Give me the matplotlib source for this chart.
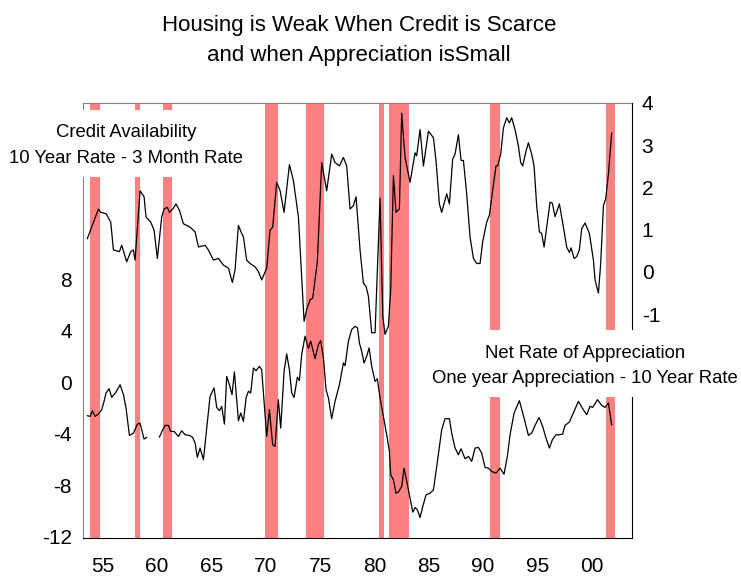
import numpy as np
import matplotlib
matplotlib.use("Agg")
import matplotlib.pyplot as plt
from matplotlib.patches import Rectangle

plt.rcParams['font.family'] = ['Liberation Sans', 'DejaVu Sans']
plt.rcParams['axes.unicode_minus'] = False

# Credit availability: 10 year rate - 3 month rate (right axis)
credit_year = [1953.59, 1954.61, 1954.82, 1955.31, 1955.74, 1955.99, 1956.54, 1956.75,
               1957.21, 1957.58, 1957.83, 1957.98, 1958.44, 1958.81, 1958.99, 1959.42,
               1959.73, 1960.03, 1960.43, 1960.65, 1960.95, 1961.14, 1961.45, 1961.75,
               1962.06, 1962.43, 1963.04, 1963.50, 1963.81, 1964.42, 1964.73, 1965.19,
               1965.65, 1966.11, 1966.57, 1966.93, 1967.18, 1967.49, 1967.79, 1967.95,
               1968.25, 1968.56, 1969.02, 1969.33, 1969.63, 1970.09, 1970.40, 1970.64,
               1971.01, 1971.32, 1971.69, 1972.18, 1972.55, 1973.01, 1973.53, 1973.77,
               1974.08, 1974.32, 1974.75, 1975.15, 1975.61, 1976.07, 1976.38, 1976.78,
               1977.15, 1977.45, 1977.76, 1978.07, 1978.31, 1978.68, 1978.99, 1979.23,
               1979.45, 1979.75, 1980.06, 1980.52, 1980.77, 1980.98, 1981.29, 1981.50,
               1981.75, 1981.99, 1982.30, 1982.51, 1982.82, 1983.28, 1983.74, 1983.89,
               1984.20, 1984.51, 1984.97, 1985.43, 1985.67, 1985.98, 1986.19, 1986.65,
               1986.90, 1987.20, 1987.42, 1987.73, 1987.97, 1988.19, 1988.49, 1988.80,
               1989.11, 1989.41, 1989.72, 1989.96, 1990.33, 1990.58, 1990.88, 1991.19,
               1991.34, 1991.62, 1991.87, 1992.17, 1992.42, 1992.63, 1992.94, 1993.25,
               1993.46, 1993.64, 1993.95, 1994.17, 1994.47, 1994.69, 1994.93, 1995.18,
               1995.39, 1995.61, 1995.85, 1996.16, 1996.37, 1996.62, 1997.02, 1997.39,
               1997.69, 1997.94, 1998.09, 1998.37, 1998.61, 1998.86, 1999.07, 1999.38,
               1999.78, 2000.15, 2000.30, 2000.61, 2000.82, 2001.07, 2001.28, 2001.53,
               2001.83]
credit_val = [0.79, 1.49, 1.41, 1.38, 1.18, 0.52, 0.48, 0.63,
              0.24, 0.48, 0.52, 0.28, 1.92, 1.78, 1.30, 1.18,
              0.99, 0.32, 1.30, 1.49, 1.53, 1.41, 1.49, 1.61,
              1.46, 1.14, 1.06, 0.95, 0.59, 0.63, 0.52, 0.28,
              0.32, 0.16, 0.09, -0.25, 0.05, 1.10, 0.91, 0.83,
              0.28, 0.20, 0.12, 0.01, -0.19, 0.09, 0.99, 1.06,
              2.12, 1.93, 1.41, 2.54, 2.16, 1.30, -1.17, -0.89,
              -0.66, -0.62, 0.24, 2.59, 1.92, 2.79, 2.59, 2.51,
              2.71, 2.51, 1.49, 1.57, 1.78, 0.52, -0.27, -0.34,
              -0.58, -1.44, -1.44, 1.75, -1.05, -1.48, -1.28, -0.42,
              2.28, 1.41, 1.49, 3.76, 2.71, 2.12, 2.82, 2.75,
              3.37, 2.51, 3.33, 3.18, 2.63, 1.61, 1.41, 1.85,
              1.61, 2.67, 2.79, 3.25, 2.64, 2.64, 1.85, 0.83,
              0.32, 0.20, 0.20, 0.71, 1.18, 1.34, 1.93, 2.51,
              2.51, 2.79, 3.41, 3.65, 3.53, 3.65, 3.37, 2.98,
              2.59, 2.51, 2.86, 3.06, 2.79, 2.51, 1.57, 0.95,
              0.91, 0.59, 1.06, 1.65, 1.63, 1.31, 1.61, 1.06,
              0.59, 0.46, 0.57, 0.32, 0.36, 0.52, 1.02, 1.16,
              0.91, 0.28, -0.19, -0.50, 0.20, 1.57, 1.73, 2.32,
              3.29]

# Net rate of appreciation: one year appreciation - 10 year rate (left axis)
apprec_year = [1953.59, 1953.84, 1954.05, 1954.30, 1954.61, 1954.91, 1955.13, 1955.31,
               1955.59, 1955.83, 1956.23, 1956.60, 1956.91, 1957.15, 1957.46, 1957.83,
               1958.20, 1958.44, 1958.59, 1958.81, 1959.05, 1959.60, 1960.22, 1960.53,
               1960.74, 1961.05, 1961.26, 1961.57, 1961.97, 1962.27, 1962.58, 1962.98,
               1963.28, 1963.50, 1963.71, 1963.96, 1964.27, 1964.51, 1964.88, 1965.25,
               1965.49, 1965.74, 1965.95, 1966.20, 1966.41, 1966.66, 1966.90, 1967.12,
               1967.49, 1967.70, 1967.95, 1968.19, 1968.41, 1968.62, 1968.87, 1969.11,
               1969.42, 1969.63, 1969.85, 1970.09, 1970.34, 1970.64, 1970.86, 1971.16,
               1971.38, 1971.69, 1971.93, 1972.18, 1972.39, 1972.61, 1972.91, 1973.10,
               1973.31, 1973.62, 1973.93, 1974.14, 1974.54, 1974.85, 1975.06, 1975.31,
               1975.55, 1975.77, 1976.07, 1976.38, 1976.78, 1977.15, 1977.30, 1977.61,
               1977.91, 1978.22, 1978.45, 1978.62, 1978.83, 1979.05, 1979.29, 1979.51,
               1979.75, 1980.06, 1980.27, 1980.52, 1980.83, 1981.13, 1981.38, 1981.50,
               1981.75, 1981.99, 1982.20, 1982.51, 1982.73, 1982.97, 1983.22, 1983.53,
               1983.74, 1983.95, 1984.20, 1984.45, 1984.75, 1985.12, 1985.43, 1985.80,
               1986.19, 1986.50, 1986.90, 1987.11, 1987.42, 1987.73, 1987.97, 1988.34,
               1988.65, 1988.95, 1989.26, 1989.57, 1989.87, 1990.18, 1990.49, 1990.79,
               1991.19, 1991.56, 1991.93, 1992.23, 1992.48, 1992.85, 1993.34, 1993.77,
               1994.17, 1994.47, 1994.78, 1995.15, 1995.48, 1995.79, 1996.10, 1996.37,
               1996.71, 1997.02, 1997.32, 1997.54, 1997.94, 1998.37, 1998.77, 1999.16,
               1999.53, 1999.84, 2000.09, 2000.52, 2000.91, 2001.22, 2001.53, 2001.83]
apprec_val = [-2.60, -2.65, -2.21, -2.65, -2.47, -2.13, -1.48, -0.83,
              -0.50, -1.17, -0.76, -0.19, -0.96, -2.00, -4.13, -3.95,
              -3.25, -3.17, -3.69, -4.41, -4.28, np.nan, -4.26, -3.69,
              -3.35, -3.35, -3.82, -3.82, -4.21, -3.76, -4.08, -4.13,
              -4.28, -4.72, -5.84, -5.11, -6.02, -4.08, -1.09, -0.44,
              -1.95, -2.21, -1.87, -3.25, 0.46, -0.19, -0.96, 0.80,
              -2.99, -2.39, -3.04, -1.22, -0.70, -0.83, 1.11, 0.90,
              1.24, 0.98, -1.48, -4.21, -2.13, -4.85, -4.98, -1.35,
              -3.56, 0.85, 2.20, 0.98, -0.83, -1.17, 0.39, 0.13,
              2.15, 3.58, 2.62, 3.19, 1.84, 2.93, 3.24, 1.89,
              -0.57, -1.22, -2.83, -1.48, -0.19, 1.50, 1.29, 3.19,
              4.10, 4.35, 4.22, 3.06, 2.41, 1.50, 2.02, 2.67,
              1.24, 0.07, 0.28, -1.22, -2.65, -4.08, -5.37, -7.19,
              -7.58, -8.62, -8.54, -8.10, -6.67, -7.71, -8.75, -10.09,
              -9.73, -9.91, -10.51, -9.65, -8.75, -8.62, -8.36, -6.15,
              -3.69, -2.83, -2.83, -3.95, -5.11, -5.63, -5.17, -5.94,
              -5.76, -6.15, -5.11, -5.06, -5.50, -6.62, -6.67, -6.93,
              -7.06, -6.67, -7.14, -5.76, -4.08, -2.39, -1.43, -2.78,
              -4.13, -3.95, -3.35, -2.73, -3.43, -4.34, -5.11, -4.47,
              -4.08, -4.08, -4.02, -3.35, -3.09, -2.26, -1.48, -2.05,
              -2.52, -1.87, -1.95, -1.35, -1.79, -1.95, -1.61, -3.30]

# recession shading (start, end)
recessions = [(1953.84, 1954.73), (1957.97, 1958.47), (1960.51, 1961.34),
              (1969.92, 1971.14), (1973.71, 1975.37), (1980.38, 1980.85),
              (1981.37, 1983.16), (1990.62, 1991.54), (2001.35, 2002.10)]

xticks = [1955, 1960, 1965, 1970, 1975, 1980, 1985, 1990, 1995, 2000]
xtick_labels = ['55', '60', '65', '70', '75', '80', '85', '90', '95', '00']
left_ticks = [-12, -8, -4, 0, 4, 8]
right_ticks = [-1, 0, 1, 2, 3, 4]

W, H = 741, 577
fig = plt.figure(figsize=(W / 100, H / 100), dpi=100)
ax = fig.add_axes([83 / W, 1 - 538 / H, (632 - 83) / W, (538 - 103) / H])
ax2 = ax.twinx()

for a, b in recessions:
    ax.axvspan(a, b, color='#ff8080', lw=0, zorder=1)

ax.plot(apprec_year, apprec_val, color='black', lw=0.9, zorder=3)
ax2.plot(credit_year, credit_val, color='black', lw=0.9, zorder=3)

ax.set_xlim(1953.19, 2003.70)
ax.set_ylim(-12.1, 21.7)
ax2.set_ylim(-6.3, 4.0)

ax.set_xticks(xticks)
ax.set_xticklabels(xtick_labels)
ax.set_yticks(left_ticks)
ax2.set_yticks(right_ticks)

ax.tick_params(axis='x', length=0, labelsize=15, pad=14)
ax.tick_params(axis='y', length=0, labelsize=15, pad=8)
ax2.tick_params(axis='y', length=0, labelsize=15, pad=7)

for s in ['left', 'top']:
    ax.spines[s].set_color('#808080')
ax.spines['bottom'].set_color('black')
ax.spines['right'].set_visible(False)
for s in ['left', 'top', 'bottom']:
    ax2.spines[s].set_visible(False)
ax2.spines['right'].set_color('black')

# white label boxes laid over the plot
fig.add_artist(Rectangle((0, 1 - 177 / H), 250 / W, 67 / H, transform=fig.transFigure,
                         facecolor='white', edgecolor='none', zorder=5))
fig.add_artist(Rectangle((425 / W, 1 - 397 / H), (W - 425) / W, 67 / H,
                         transform=fig.transFigure, facecolor='white',
                         edgecolor='none', zorder=5))

fig.text(126 / W, 1 - 137.3 / H, 'Credit Availability', ha='center', va='baseline',
         fontsize=13.3, zorder=6)
fig.text(126 / W, 1 - 163.3 / H, '10 Year Rate - 3 Month Rate', ha='center',
         va='baseline', fontsize=13.3, zorder=6)
fig.text(585 / W, 1 - 358 / H, 'Net Rate of Appreciation', ha='center', va='baseline',
         fontsize=13.3, zorder=6)
fig.text(585 / W, 1 - 382.7 / H, 'One year Appreciation - 10 Year Rate', ha='center',
         va='baseline', fontsize=13.3, zorder=6)

fig.text(359 / W, 1 - 30.7 / H, 'Housing is Weak When Credit is Scarce', ha='center',
         va='baseline', fontsize=16)
fig.text(359 / W, 1 - 60.7 / H, 'and when Appreciation isSmall', ha='center',
         va='baseline', fontsize=16)

fig.savefig('out.png', dpi=100)
